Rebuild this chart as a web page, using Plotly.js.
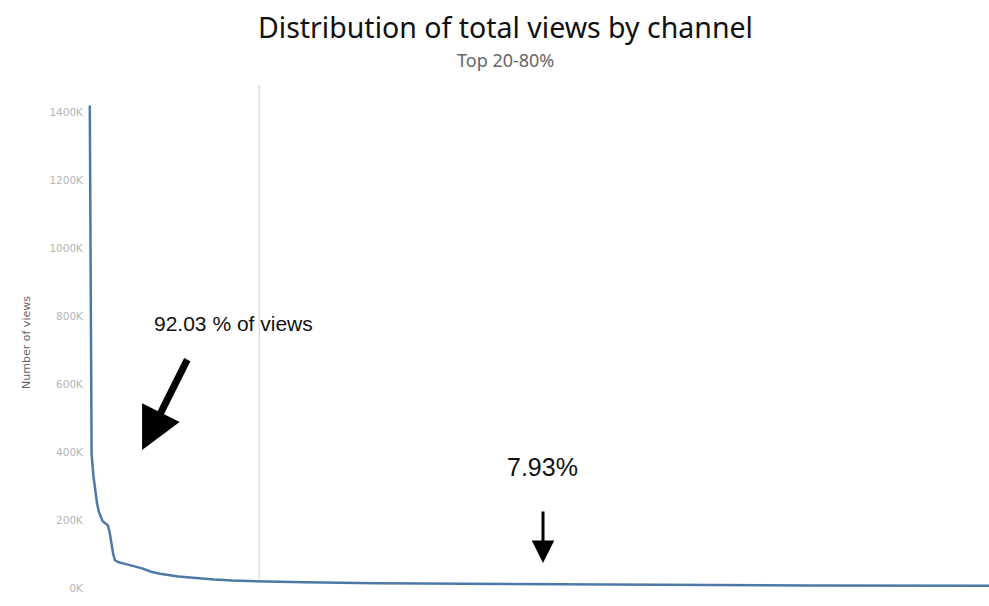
<!DOCTYPE html>
<html>
<head>
<meta charset="utf-8">
<script src="https://cdn.plot.ly/plotly-3.0.1.min.js"></script>
<style>html,body{margin:0;padding:0;background:#fff;}#chart{width:989px;height:606px;}</style>
</head>
<body>
<div id="chart"></div>
<script>
// Channel rank (sorted by total views) and number of views
const channelRank = [1, 2, 3, 4, 5, 6, 7, 8, 9, 10, 11, 12, 13, 14, 15, 17, 20, 25, 30, 35, 40, 50, 60, 70, 80, 95, 120, 160, 220, 300, 400, 500];
const views = [1420000, 395000, 330000, 285000, 250000, 225000, 208000, 198000, 193000, 190000, 185000, 165000, 130000, 100000, 82000, 76000, 72000, 66000, 58000, 48000, 42000, 34000, 29000, 25000, 22000, 20000, 17000, 14000, 12000, 10000, 8000, 7000];

const yTickVals = [0, 200000, 400000, 600000, 800000, 1000000, 1200000, 1400000];
const yTickText = ["0K", "200K", "400K", "600K", "800K", "1000K", "1200K", "1400K"];

const splitRank = 95;  // 20% of channels
const bigLabel = "92.03 % of views";
const smallLabel = "7.93%";
const titleText = "Distribution of total views by channel";
const subtitleText = "Top 20-80%";

const trace = {
  x: channelRank,
  y: views,
  type: 'scatter',
  mode: 'lines',
  line: {color: '#4e79a7', width: 2.5},
  hoverinfo: 'skip'
};

const layout = {
  width: 989,
  height: 606,
  paper_bgcolor: '#ffffff',
  plot_bgcolor: '#ffffff',
  margin: {l: 88, r: 0, t: 85, b: 6},
  showlegend: false,
  xaxis: {
    range: [0, 500],
    showticklabels: false, showgrid: false, zeroline: false, showline: false, ticks: ''
  },
  yaxis: {
    range: [-35000, 1480000],
    tickvals: yTickVals, ticktext: yTickText,
    tickfont: {family: 'DejaVu Sans, sans-serif', size: 10.5, color: '#b5b5b5'},
    ticklabelstandoff: 4,
    showgrid: false, zeroline: false, showline: false, ticks: '',
    title: {text: 'Number of views', font: {family: 'DejaVu Sans, sans-serif', size: 11, color: '#666'}, standoff: 16}
  },
  shapes: [{
    type: 'line', xref: 'x', yref: 'paper', x0: splitRank, x1: splitRank, y0: 0.04, y1: 1,
    line: {color: '#d0d0d0', width: 1}
  }],
  annotations: [
    {x: 0.463, y: 1.1126, xref: 'paper', yref: 'paper', text: titleText, showarrow: false,
     xanchor: 'center', yanchor: 'middle',
     font: {family: 'Noto Sans, Open Sans, sans-serif', size: 28.5, color: '#111'}},
    {x: 0.463, y: 1.0485, xref: 'paper', yref: 'paper', text: subtitleText, showarrow: false,
     xanchor: 'center', yanchor: 'middle',
     font: {family: 'Noto Sans, Open Sans, sans-serif', size: 18, color: '#666'}},
    {x: 81, y: 779000, xref: 'x', yref: 'y', text: bigLabel, showarrow: false,
     font: {family: 'Liberation Sans, Arial, sans-serif', size: 21, color: '#111'}},
    {x: 30, y: 406000, xref: 'x', yref: 'y', text: '', showarrow: true,
     ax: 46, ay: -92, arrowhead: 2, arrowsize: 1.2, arrowwidth: 7, arrowcolor: '#000'},
    {x: 252, y: 356000, xref: 'x', yref: 'y', text: smallLabel, showarrow: false,
     font: {family: 'Liberation Sans, Arial, sans-serif', size: 25, color: '#111'}},
    {x: 252.5, y: 73500, xref: 'x', yref: 'y', text: '', showarrow: true,
     ax: 0, ay: -53, arrowhead: 2, arrowsize: 1.5, arrowwidth: 3, arrowcolor: '#000'}
  ]
};

Plotly.newPlot('chart', [trace], layout, {displayModeBar: false, staticPlot: true});
</script>
</body>
</html>
